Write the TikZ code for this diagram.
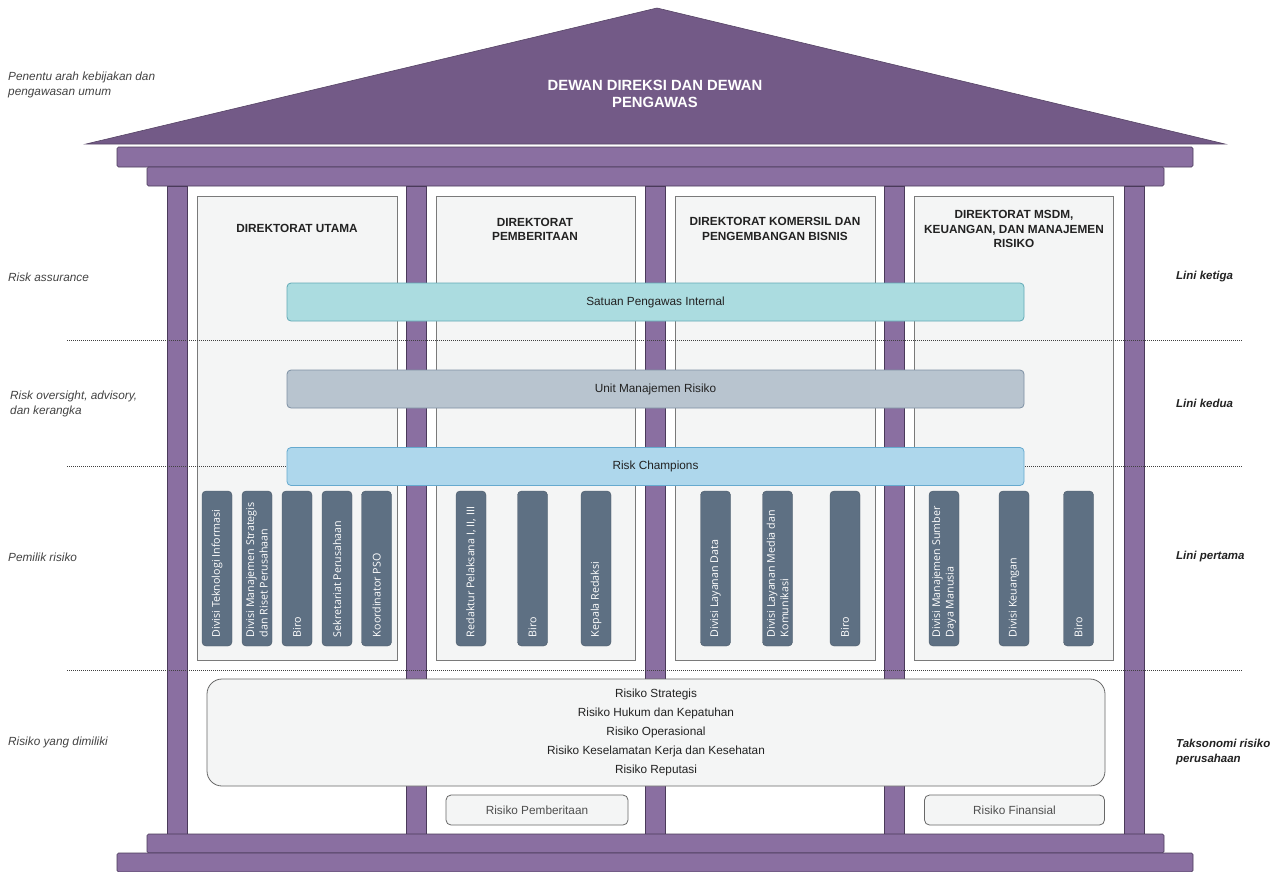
\documentclass[tikz,border=0pt]{standalone}
\usepackage{fontspec}
\setmainfont{Liberation Sans}
\newfontfamily\unitfont{Open Sans}
\definecolor{roofc}{HTML}{735A87}
\definecolor{beamc}{HTML}{8A6FA1}
\definecolor{beamline}{HTML}{4A3A5A}
\definecolor{boxfill}{HTML}{F4F5F5}
\definecolor{boxline}{HTML}{7A7A7A}
\definecolor{spic}{HTML}{ABDCE0}
\definecolor{spiline}{HTML}{62AAB6}
\definecolor{umrc}{HTML}{B8C4CF}
\definecolor{umrline}{HTML}{7D90A3}
\definecolor{rcc}{HTML}{AED7EC}
\definecolor{rcline}{HTML}{66AACF}
\definecolor{unitc}{HTML}{5E7083}
\definecolor{txt}{HTML}{222222}
\begin{document}
\begin{tikzpicture}[x=1pt,y=-1pt,
  beam/.style={fill=beamc, draw=beamline, line width=0.6pt, rounded corners=1.5pt},
  dirbox/.style={fill=boxfill, draw=boxline, line width=0.8pt},
  head/.style={font=\bfseries\fontsize{11.8}{14.2}\selectfont, text=txt, align=center},
  rooftext/.style={font=\bfseries\fontsize{14.8}{17}\selectfont, text=white, align=center},
  hbar/.style={minimum width=737pt, minimum height=38pt, rounded corners=4pt, line width=0.8pt,
     font=\fontsize{11.8}{13}\selectfont, text=txt, inner sep=0pt},
  unitbox/.style={fill=unitc, draw=unitc!80!black, line width=0.4pt, rounded corners=4pt,
     minimum width=30pt, minimum height=155pt, inner sep=0pt},
  unittext/.style={font=\unitfont\fontsize{10.7}{13.5}\selectfont, text=white, rotate=90, anchor=west,
     align=left, inner sep=0pt},
  leftlab/.style={font=\itshape\fontsize{11.8}{15}\selectfont, text=txt!85, anchor=west, align=left, inner sep=0pt},
  rightlab/.style={font=\bfseries\itshape\fontsize{11.5}{14.5}\selectfont, text=txt, anchor=west, align=left, inner sep=0pt},
  riskbox/.style={fill=boxfill, draw=boxline!85!black, line width=0.8pt, inner sep=0pt},
  sepline/.style={draw=black!75, line width=0.8pt, dash pattern=on 1pt off 1pt}
]
\useasboundingbox (0,0) rectangle (1282,871);
\fill[white] (0,0) rectangle (1282,871);

% roof
\path[fill=roofc, draw=roofc!75!black, line width=0.6pt] (86,144) -- (657,8) -- (1225,144) -- cycle;
\node[rooftext] (board) at (655,93.5) {DEWAN DIREKSI DAN DEWAN\\PENGAWAS};

% cornice
\draw[beam] (117,147) rectangle (1193,167);
\draw[beam] (147,167) rectangle (1164,186);

% columns
\foreach \cx in {167,406,645,884,1124} {
  \draw[beam, rounded corners=0pt] (\cx,186) rectangle (\cx+20,834);
}

% directorate boxes
\draw[dirbox] (197,196) rectangle (397,660);
\draw[dirbox] (436,196) rectangle (635,660);
\draw[dirbox] (675,196) rectangle (875,660);
\draw[dirbox] (914,196) rectangle (1113,660);
\node[head] (d1) at (297,228) {DIREKTORAT UTAMA};
\node[head] (d2) at (535,229) {DIREKTORAT\\PEMBERITAAN};
\node[head] (d3) at (775,229) {DIREKTORAT KOMERSIL DAN\\PENGEMBANGAN BISNIS};
\node[head] (d4) at (1014,229) {DIREKTORAT MSDM,\\KEUANGAN, DAN MANAJEMEN\\RISIKO};

% separator lines
\draw[sepline] (67,340) -- (1242,340);
\draw[sepline] (67,466) -- (1242,466);
\draw[sepline] (67,670) -- (1242,670);

% horizontal bars
\node[hbar, fill=spic, draw=spiline] (spi) at (655.5,302) {Satuan Pengawas Internal};
\node[hbar, fill=umrc, draw=umrline] (umr) at (655.5,389) {Unit Manajemen Risiko};
\node[hbar, fill=rcc, draw=rcline] (rc) at (655.5,466.5) {Risk Champions};

% vertical units
\foreach \nm/\cx/\tx in {
  u1/217/{Divisi Teknologi Informasi},
  u2/257/{Divisi Manajemen Strategis\\dan Riset Perusahaan},
  u3/297/{Biro},
  u4/337/{Sekretariat Perusahaan},
  u5/376.5/{Koordinator PSO},
  u6/471/{Redaktur Pelaksana I, II, III},
  u7/532.5/{Biro},
  u8/596/{Kepala Redaksi},
  u9/715.5/{Divisi Layanan Data},
  u10/777.5/{Divisi Layanan Media dan\\Komunikasi},
  u11/845/{Biro},
  u12/944/{Divisi Manajemen Sumber\\Daya Manusia},
  u13/1014/{Divisi Keuangan},
  u14/1078.5/{Biro}} {
  \node[unitbox] (\nm) at (\cx,568.5) {};
  \node[unittext] (\nm t) at ([yshift=9pt]\nm.south) {\tx};
}

% risk taxonomy
\node[riskbox, rounded corners=15pt, minimum width=898pt, minimum height=107pt,
  font=\fontsize{11.8}{19.2}\selectfont, text=txt, align=center] (tax) at (656,732.5)
  {Risiko Strategis\\Risiko Hukum dan Kepatuhan\\Risiko Operasional\\Risiko Keselamatan Kerja dan Kesehatan\\Risiko Reputasi};
\node[riskbox, rounded corners=5pt, minimum width=182pt, minimum height=30pt,
  font=\fontsize{11.8}{13}\selectfont, text=txt!80] (rp) at (537,810) {Risiko Pemberitaan};
\node[riskbox, rounded corners=5pt, minimum width=180pt, minimum height=30pt,
  font=\fontsize{11.8}{13}\selectfont, text=txt!80] (rf) at (1014.5,810) {Risiko Finansial};

% base
\draw[beam] (147,834) rectangle (1164,853);
\draw[beam] (117,853) rectangle (1193,872);

% left labels
\node[leftlab] (l1) at (8,84.5) {Penentu arah kebijakan dan\\pengawasan umum};
\node[leftlab] (l2) at (8,277) {Risk assurance};
\node[leftlab] (l3) at (10,403.5) {Risk oversight, advisory,\\dan kerangka};
\node[leftlab] (l4) at (8,557) {Pemilik risiko};
\node[leftlab] (l5) at (8,742) {Risiko yang dimiliki};

% right labels
\node[rightlab] (r1) at (1176,277) {Lini ketiga};
\node[rightlab] (r2) at (1176,403) {Lini kedua};
\node[rightlab] (r3) at (1176,557) {Lini pertama};
\node[rightlab] (r4) at (1176,752) {Taksonomi risiko\\perusahaan};
\end{tikzpicture}
\end{document}
